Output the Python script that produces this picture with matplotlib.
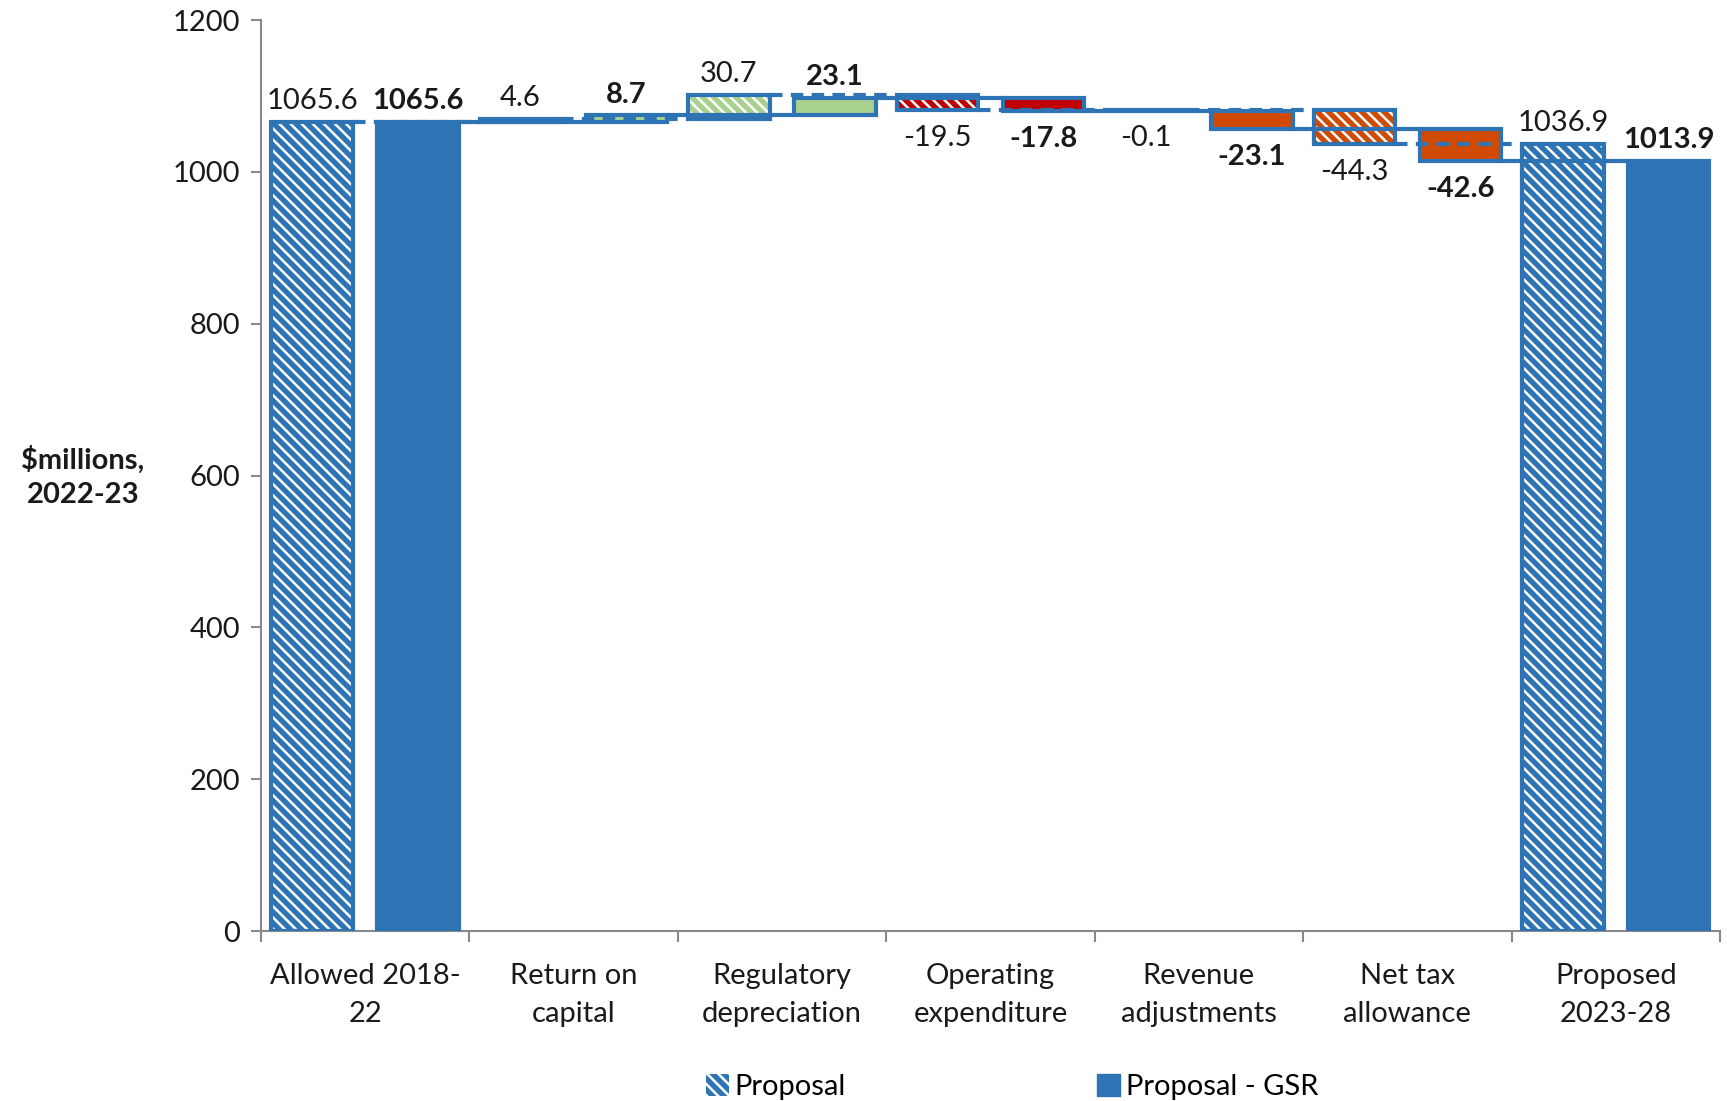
import matplotlib
matplotlib.use("Agg")
import matplotlib.pyplot as plt
from matplotlib.patches import Patch
import numpy as np

plt.rcParams['font.family'] = ['Lato', 'DejaVu Sans']
plt.rcParams['hatch.linewidth'] = 1.8

# chart data
categories = ['Allowed 2018-\n22', 'Return on\ncapital', 'Regulatory\ndepreciation',
              'Operating\nexpenditure', 'Revenue\nadjustments', 'Net tax\nallowance',
              'Proposed\n2023-28']
proposal = [1065.6, 4.6, 30.7, -19.5, -0.1, -44.3, 1036.9]
gsr = [1065.6, 8.7, 23.1, -17.8, -23.1, -42.6, 1013.9]
series_names = ['Proposal', 'Proposal - GSR']

BLUE = '#2E74B5'
GREEN = '#A9D18E'
RED = '#C00000'
ORANGE = '#D04A02'
fill_colors = [BLUE, GREEN, GREEN, RED, ORANGE, ORANGE, BLUE]
HATCH = '\\\\\\'


def waterfall(vals):
    bottoms, heights, tops = [], [], []
    run = 0
    n = len(vals)
    for i, v in enumerate(vals):
        if i == 0 or i == n - 1:
            bottoms.append(0)
            heights.append(v)
            run = v
        else:
            new = run + v
            bottoms.append(min(run, new))
            heights.append(abs(v))
            run = new
        tops.append(run)
    return bottoms, heights, tops


fig = plt.figure(figsize=(17.27, 11.01), dpi=100)
ax = fig.add_axes([0.151, 0.1544, 0.845, 0.8274])

x = np.arange(len(categories))
w = 0.39
off = 0.254
fs = 21

for k, vals in enumerate([proposal, gsr]):
    xs = x + (-off if k == 0 else off)
    bottoms, heights, levels = waterfall(vals)
    hatched = (k == 0)
    for i in range(len(vals)):
        ax.bar(xs[i], heights[i], w, bottom=bottoms[i], color=fill_colors[i],
               edgecolor='white' if hatched else fill_colors[i], linewidth=0,
               hatch=HATCH if hatched else None, zorder=2)
        ax.bar(xs[i], heights[i], w, bottom=bottoms[i], fill=False,
               edgecolor=BLUE, linewidth=3, zorder=3)
        # value labels
        v = vals[i]
        if v >= 0 or i == 0 or i == len(vals) - 1:
            y = bottoms[i] + heights[i]
            dy = 15
        else:
            y = bottoms[i]
            dy = -20
        ax.annotate(f'{v:.1f}', (xs[i], y), xytext=(0, dy), textcoords='offset points',
                    ha='center', va='center', fontsize=fs, color='#1a1a1a',
                    fontweight='bold' if k == 1 else 'normal', zorder=5)
    # connectors
    for i in range(len(vals) - 1):
        ax.plot([xs[i] + w / 2, xs[i + 1] - w / 2], [levels[i], levels[i]],
                color=BLUE, lw=3, ls='-' if k == 1 else (0, (3, 2)), zorder=4,
                solid_capstyle='butt')

ax.set_xlim(-0.5, len(categories) - 0.5)
ax.set_ylim(0, 1200)
ax.set_yticks(np.arange(0, 1201, 200))
ax.set_xticks(x)
ax.set_xticklabels(categories, fontsize=fs, color='#1a1a1a', linespacing=1.55)
ax.set_xticks(np.arange(-0.5, len(categories), 1), minor=True)
ax.tick_params(axis='x', which='major', length=0, pad=23)
ax.tick_params(axis='x', which='minor', length=8, width=1.5, color='#898989')
ax.tick_params(axis='y', length=7, width=1.5, color='#898989', labelsize=fs,
               labelcolor='#1a1a1a', pad=8)
for s in ['top', 'right']:
    ax.spines[s].set_visible(False)
for s in ['left', 'bottom']:
    ax.spines[s].set_color('#898989')
    ax.spines[s].set_linewidth(1.5)

fig.text(0.048, 0.567, '$millions,\n2022-23', ha='center', va='center',
         fontsize=fs, fontweight='bold', color='#1a1a1a', linespacing=1.4)

handles = [Patch(facecolor=BLUE, edgecolor='white', hatch=HATCH, linewidth=0),
           Patch(facecolor=BLUE, edgecolor=BLUE)]
fig.legend(handles, series_names, loc='center', bbox_to_anchor=(0.586, 0.013), ncol=2,
           frameon=False, fontsize=fs, handlelength=0.8, handleheight=0.8,
           handletextpad=0.2, columnspacing=8.6)

fig.savefig('out.png', dpi=100)
